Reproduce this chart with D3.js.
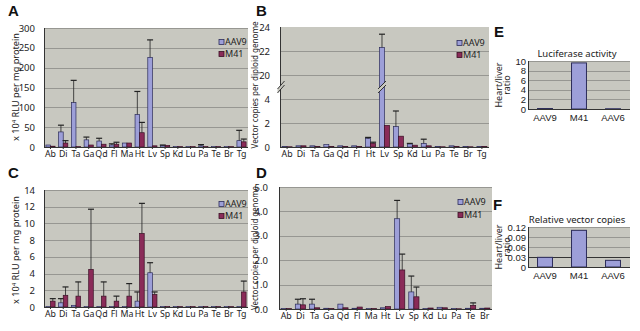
<!DOCTYPE html>
<html><head><meta charset="utf-8">
<script src="https://cdn.jsdelivr.net/npm/d3@7/dist/d3.min.js"></script>
<style>
html,body{margin:0;padding:0;background:#fff;}
svg{display:block;font-family:"Noto Sans","Open Sans",sans-serif;}
</style></head>
<body>
<svg id="c" width="640" height="331"></svg>
<script>
// ---------- DATA ----------
const catsA = ["Ab","Di","Ta","Ga","Qd","Fl","Ma","Ht","Lv","Sp","Kd","Lu","Pa","Te","Br","Tg"];
const aav9A = [5,38,112,18,15,5,10,82,226,4,1,1,3,1,1,16];
const m41A  = [2,10,1,5,7,7,10,36,3,4,1,1,1,1,1,13];
const aav9ErrA = [0,17,56,7,7,3,0,58,44,1,0,0,3,0,0,26];
const m41ErrA  = [0,6,0,0,0,5,0,26,0,0,0,0,0,0,0,7];
const ticksA = [0,50,100,150,200,250,300];

const catsB = ["Ab","Di","Ta","Ga","Qd","Fl","Ht","Lv","Sp","Kd","Lu","Pa","Te","Br","Tg"];
const aav9B = [0.05,0.1,0.1,0.2,0.1,0.1,0.7,22.3,1.7,0.25,0.3,0.05,0.1,0.05,0.05];
const m41B  = [0.02,0.1,0.05,0.05,0.05,0.05,0.3,1.8,0.9,0.15,0.1,0.02,0.05,0.02,0.05];
const aav9ErrB = [0,0,0,0,0,0,0.1,1.1,1.3,0.05,0.35,0,0,0,0];
const m41ErrB  = [0,0,0,0,0,0,0.1,0,0,0,0,0,0,0,0];
const ticksB = [0,2,4,20,22,24];

const catsC = ["Ab","Di","Ta","Ga","Qd","Fl","Ma","Ht","Lv","Sp","Kd","Lu","Pa","Te","Br","Tg"];
const aav9C = [0.05,0.5,0.2,0.05,0.05,0.05,0.05,0.7,4.1,0.05,0.05,0.05,0.05,0.05,0.05,0.05];
const m41C  = [0.7,1.4,1.3,4.5,1.3,0.7,1.3,8.8,1.5,0.05,0.05,0.05,0.05,0.05,0.05,1.8];
const aav9ErrC = [0,0.5,0,0,0,0,0,1.1,1.2,0,0,0,0,0,0,0];
const m41ErrC  = [0.3,1.0,1.7,7.2,1.7,0.6,1.5,3.6,0.3,0,0,0,0,0,0,1.3];
const ticksC = [0,2,4,6,8,10,12,14];

const catsD = ["Ab","Di","Ta","Ga","Qd","Fl","Ma","Ht","Lv","Sp","Kd","Lu","Pa","Te","Br"];
const aav9D = [0.02,0.2,0.2,0.03,0.2,0.03,0.02,0.05,3.7,0.7,0.02,0.07,0.02,0.03,0.03];
const m41D  = [0.02,0.17,0.05,0.02,0.05,0.08,0.02,0.1,1.6,0.5,0.04,0.05,0.01,0.15,0.04];
const aav9ErrD = [0,0.2,0.2,0,0,0,0,0,0.75,0.65,0,0,0,0,0];
const m41ErrD  = [0,0.25,0,0,0,0,0,0,0.65,0.4,0,0,0,0.1,0];
const ticksD = [0,1,2,3,4,5];

const catsEF = ["AAV9","M41","AAV6"];
const ratioE = [0.1,9.6,0.05];
const ticksE = [0,2,4,6,8,10];
const ratioF = [0.029,0.11,0.02];
const ticksF = [0,0.03,0.06,0.09,0.12];

const seriesNames = ["AAV9","M41"];

// ---------- STYLE ----------
const BG = "#c8c8c0", GRID = "#8a8a86", AX = "#333";
const FILL = ["#9d9fd8","#8a2b58"], STROKE = ["#2c2c5a","#3a0f25"];

const svg = d3.select("#c");

function panelLabel(t,x,y){
  svg.append("text").attr("x",x).attr("y",y).text(t)
    .attr("font-size",15).attr("font-weight","bold").attr("fill","#111")
    .attr("font-family","Liberation Sans, Arial, sans-serif");
}
function yLabel(lines,x,yc,len){
  lines.forEach((l,i)=>{
    const t = svg.append("text").attr("transform",`translate(${x+i*8},${yc}) rotate(-90)`)
      .attr("text-anchor","middle").attr("font-size",9).attr("fill","#222");
    if (typeof l === "string") t.text(l); else l(t);
    if (len) t.attr("textLength",len).attr("lengthAdjust","spacingAndGlyphs");
  });
}

function barPanel(o){
  const g = svg.append("g");
  const x = d3.scaleBand().domain(o.cats).range([o.x0,o.x1]).paddingInner(0.28).paddingOuter(0.15);
  const sub = d3.scaleBand().domain([0,1]).range([0,x.bandwidth()]);
  const y = o.y;
  g.append("rect").attr("x",o.x0).attr("y",o.yTop).attr("width",o.x1-o.x0).attr("height",o.yBot-o.yTop).attr("fill",BG);
  g.selectAll(".gl").data(o.gridVals).enter().append("line")
    .attr("x1",o.x0).attr("x2",o.x1).attr("y1",d=>Math.round(o.ty(d))+0.5).attr("y2",d=>Math.round(o.ty(d))+0.5)
    .attr("stroke",GRID).attr("stroke-width",0.8);
  [o.s1,o.s2].forEach((s,si)=>{
    const errs = si===0?o.e1:o.e2;
    g.selectAll(".b"+si).data(s).enter().append("rect")
      .attr("x",(d,i)=>x(o.cats[i])+sub(si)).attr("width",sub.bandwidth())
      .attr("y",d=>y(d)).attr("height",d=>Math.max(0.8,o.yBot-y(d)))
      .attr("fill",FILL[si]).attr("stroke",STROKE[si]).attr("stroke-width",0.7);
    s.forEach((d,i)=>{
      const e = errs[i]; if(!e) return;
      const cx = x(o.cats[i])+sub(si)+sub.bandwidth()/2;
      g.append("line").attr("x1",cx).attr("x2",cx).attr("y1",y(d)).attr("y2",y(d+e)).attr("stroke","#222").attr("stroke-width",0.8);
      g.append("line").attr("x1",cx-3).attr("x2",cx+3).attr("y1",y(d+e)).attr("y2",y(d+e)).attr("stroke","#222").attr("stroke-width",1.2);
    });
  });
  const ya = g.append("g").attr("transform",`translate(${o.x0},0)`).call(o.axis);
  ya.select(".domain").remove();
  ya.selectAll("line").remove();
  ya.selectAll("text").attr("font-size",9.5).attr("fill","#222").attr("font-family","Noto Sans, sans-serif");
  g.append("line").attr("x1",o.x0+0.5).attr("x2",o.x0+0.5).attr("y1",o.yTop).attr("y2",o.yBot).attr("stroke",AX);
  g.append("line").attr("x1",o.x0).attr("x2",o.x1).attr("y1",o.yBot+0.5).attr("y2",o.yBot+0.5).attr("stroke",AX).attr("stroke-width",1.2);
  const xa = g.append("g").attr("transform",`translate(0,${o.yBot})`).call(d3.axisBottom(x).tickSize(2).tickPadding(2));
  xa.select(".domain").remove();
  xa.selectAll("line").attr("stroke",AX);
  xa.selectAll("text").attr("font-size",8.8).attr("fill","#222").attr("font-family","Noto Sans, sans-serif");
  seriesNames.forEach((n,i)=>{
    g.append("rect").attr("x",o.lx).attr("y",o.ly+i*o.lgap-5.5).attr("width",5).attr("height",5)
      .attr("fill",FILL[i]).attr("stroke",STROKE[i]).attr("stroke-width",0.8);
    g.append("text").attr("x",o.lx+6).attr("y",o.ly+i*o.lgap).text(n)
      .attr("font-size",9).attr("fill","#222");
  });
  return {x,sub,g};
}

// ---------- A ----------
const yA = d3.scaleLinear().domain([0,300]).range([147,28]);
barPanel({x0:44,x1:248,yTop:28,yBot:147,cats:catsA,s1:aav9A,s2:m41A,e1:aav9ErrA,e2:m41ErrA,
  y:yA,ty:yA,gridVals:ticksA.slice(1),axis:d3.axisLeft(yA).tickValues(ticksA).tickPadding(3),
  lx:219,ly:45,lgap:12});
panelLabel("A",8,16);
yLabel([t=>{t.append("tspan").text("x 10");t.append("tspan").attr("font-size",6).attr("dy",-3).text("4");
  t.append("tspan").attr("dy",3).text(" RLU per mg protein");}],19,87,108);

// ---------- B (broken axis) ----------
const linB = d3.scaleLinear().domain([0,10]).range([147,27]);
const mapB = v => v<=4 ? v : v-14;
const yB = v => linB(mapB(v));
const pB = barPanel({x0:280,x1:489,yTop:27,yBot:147,cats:catsB,s1:aav9B,s2:m41B,e1:aav9ErrB,e2:m41ErrB,
  y:yB,ty:yB,gridVals:[2,4,20,22],
  axis:d3.axisLeft(linB).tickValues(ticksB.map(mapB)).tickFormat(t=>t<=4?t:t+14).tickPadding(4),
  lx:457,ly:46,lgap:12});
panelLabel("B",256,16);
yLabel(["Vector copies per diploid genome"],258,85,127);
function breakMark(cx,cy,w){
  svg.append("path").attr("d",`M${cx-w/2},${cy+2} L${cx+w/2},${cy-6} L${cx+w/2},${cy-2} L${cx-w/2},${cy+6}Z`).attr("fill",BG);
  svg.append("line").attr("x1",cx-w/2).attr("y1",cy+2).attr("x2",cx+w/2).attr("y2",cy-6).attr("stroke","#222").attr("stroke-width",0.9);
  svg.append("line").attr("x1",cx-w/2).attr("y1",cy+6).attr("x2",cx+w/2).attr("y2",cy-2).attr("stroke","#222").attr("stroke-width",0.9);
}
const midBreak = (linB(4)+linB(6))/2;
breakMark(281,midBreak,7);
breakMark(pB.x("Lv")+pB.sub(0)+pB.sub.bandwidth()/2,midBreak,8);

// ---------- C ----------
const yC = d3.scaleLinear().domain([0,14]).range([307,190]);
barPanel({x0:44,x1:248,yTop:190,yBot:307,cats:catsC,s1:aav9C,s2:m41C,e1:aav9ErrC,e2:m41ErrC,
  y:yC,ty:yC,gridVals:ticksC.slice(1),axis:d3.axisLeft(yC).tickValues(ticksC).tickPadding(3),
  lx:219,ly:207,lgap:12});
panelLabel("C",8,178);
yLabel([t=>{t.append("tspan").text("x 10");t.append("tspan").attr("font-size",6).attr("dy",-3).text("4");
  t.append("tspan").attr("dy",3).text(" RLU per mg protein");}],19,250,108);

// ---------- D ----------
const yD = d3.scaleLinear().domain([0,5]).range([309,187]);
barPanel({x0:279,x1:492,yTop:187,yBot:309,cats:catsD,s1:aav9D,s2:m41D,e1:aav9ErrD,e2:m41ErrD,
  y:yD,ty:yD,gridVals:ticksD.slice(1),axis:d3.axisLeft(yD).tickValues(ticksD).tickPadding(5),
  lx:458,ly:205,lgap:13});
panelLabel("D",256,178);
yLabel(["Vector copies per diploid genome"],258,248,124);

// ---------- E / F ----------
function ratioPanel(o){
  const g = svg.append("g");
  const x = d3.scaleBand().domain(catsEF).range([o.x0,o.x1]).paddingInner(0.56).paddingOuter(0.28);
  g.append("rect").attr("x",o.x0).attr("y",o.yTop).attr("width",o.x1-o.x0).attr("height",o.yBot-o.yTop).attr("fill",BG);
  g.selectAll(".gl").data(o.ticks.slice(1)).enter().append("line")
    .attr("x1",o.x0).attr("x2",o.x1).attr("y1",d=>Math.round(o.y(d))+0.5).attr("y2",d=>Math.round(o.y(d))+0.5)
    .attr("stroke",(d,i)=>i===o.darkIdx?"#333":GRID).attr("stroke-width",(d,i)=>i===o.darkIdx?1:0.8);
  g.selectAll(".b").data(o.vals).enter().append("rect")
    .attr("x",(d,i)=>x(catsEF[i])).attr("width",x.bandwidth())
    .attr("y",d=>o.y(d)).attr("height",d=>o.yBot-o.y(d))
    .attr("fill",FILL[0]).attr("stroke","#2c2c5a").attr("stroke-width",1);
  const ya = g.append("g").attr("transform",`translate(${o.x0},0)`).call(d3.axisLeft(o.y).tickValues(o.ticks).tickFormat(o.fmt).tickSize(0).tickPadding(2));
  ya.select(".domain").remove();
  ya.selectAll("text").attr("font-size",9.5).attr("fill","#222");
  g.append("line").attr("x1",o.x0+0.5).attr("x2",o.x0+0.5).attr("y1",o.yTop).attr("y2",o.yBot).attr("stroke",AX);
  g.append("line").attr("x1",o.x0).attr("x2",o.x1).attr("y1",o.yBot+0.5).attr("y2",o.yBot+0.5).attr("stroke",AX).attr("stroke-width",1.2);
  const xa = g.append("g").attr("transform",`translate(0,${o.yBot})`).call(d3.axisBottom(x).tickSize(0).tickPadding(5));
  xa.select(".domain").remove();
  xa.selectAll("text").attr("font-size",9.5).attr("fill","#222");
  g.append("text").attr("x",(o.x0+o.x1)/2-2).attr("y",o.yTop-4).attr("text-anchor","middle")
    .attr("font-size",9.5).attr("fill","#222").text(o.title);
}
const yE = d3.scaleLinear().domain([0,10]).range([109,61]);
ratioPanel({x0:528,x1:630,yTop:61,yBot:109,y:yE,ticks:ticksE,vals:ratioE,fmt:d3.format("d"),title:"Luciferase activity",darkIdx:-1});
panelLabel("E",494,37);
yLabel(["Heart/liver","ratio"],502,85);

const yF = d3.scaleLinear().domain([0,0.12]).range([267,227]);
ratioPanel({x0:528,x1:630,yTop:227,yBot:267,y:yF,ticks:ticksF,vals:ratioF,fmt:d=>d===0?"0":d3.format(".2f")(d),title:"Relative vector copies",darkIdx:0});
panelLabel("F",493,210);
yLabel(["Heart/liver","ratio"],502,247);
</script>
</body></html>
